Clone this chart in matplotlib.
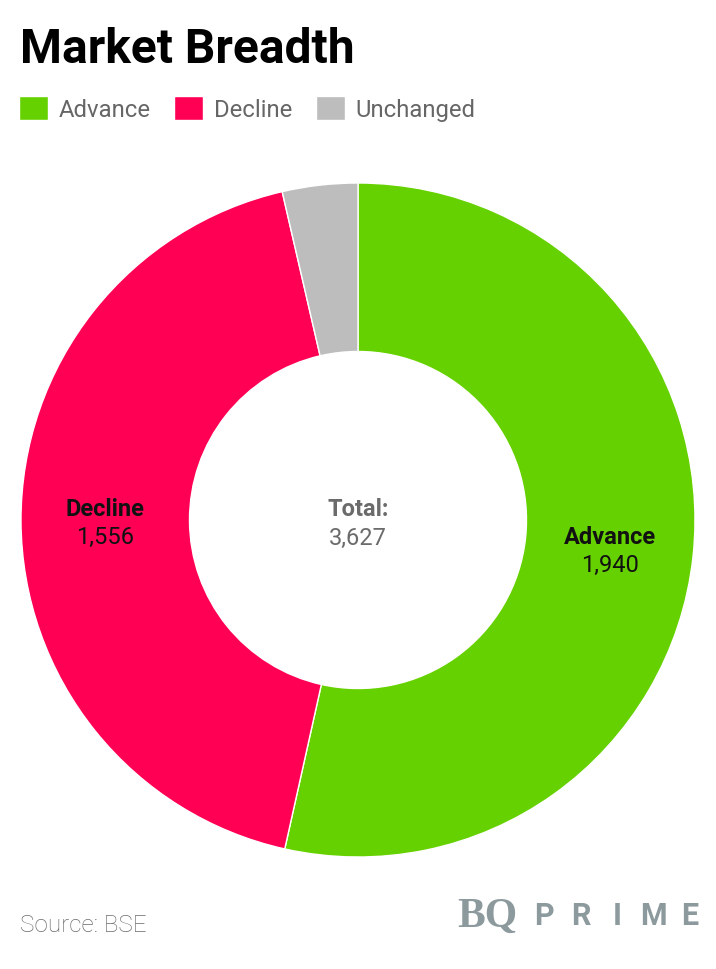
import matplotlib
matplotlib.use("Agg")
import matplotlib.pyplot as plt

categories = ["Advance", "Decline", "Unchanged"]
values = [1940, 1556, 131]
colors = ["#66D100", "#FF0055", "#BDBDBD"]
total = sum(values)

plt.rcParams['font.family'] = ['Roboto', 'DejaVu Sans']

W, H = 716, 970
fig = plt.figure(figsize=(W / 100, H / 100), dpi=100)
fig.patch.set_facecolor("white")

cx, cy, r = 358, 521, 337
ax = fig.add_axes([(cx - r) / W, (H - cy - r) / H, 2 * r / W, 2 * r / H])
wedges, _ = ax.pie(values, colors=colors, startangle=90, counterclock=False,
                   radius=1, wedgeprops=dict(width=0.5, edgecolor="white", linewidth=1))
ax.set_xlim(-1, 1)
ax.set_ylim(-1, 1)
ax.set_aspect("equal")
ax.axis("off")

def px(x, y):
    return ((x - (cx - r)) / r - 1, 1 - (y - (cy - r)) / r)

# slice labels
lab_pos = {"Advance": (610, 537), "Decline": (105, 509)}
for cat, val in zip(categories, values):
    if cat in lab_pos:
        x, y = lab_pos[cat]
        ax.text(*px(x, y), cat, ha="center", va="center", fontsize=17, fontweight="bold", color="#111111")
        ax.text(*px(x, y + 28), f"{val:,}", ha="center", va="center", fontsize=17, color="#111111")

ax.text(*px(358, 509), "Total:", ha="center", va="center", fontsize=17, fontweight="bold", color="#6b6b6b")
ax.text(*px(358, 538), f"{total:,}", ha="center", va="center", fontsize=17, color="#6b6b6b")

# title
fig.text(20 / W, 1 - 50 / H, "Market Breadth", fontsize=34.5, fontweight="bold", color="#000000",
         ha="left", va="center")

# legend
leg = fig.legend(wedges, categories, loc="upper left", bbox_to_anchor=(19 / W, 1 - 97 / H),
                 ncol=3, frameon=False, fontsize=17.2, handlelength=1.2, handleheight=1.2,
                 handletextpad=0.45, columnspacing=1.0, borderpad=0, borderaxespad=0)
for t in leg.get_texts():
    t.set_color("#666666")

# footer
fig.text(20 / W, 1 - 926 / H, "Source: BSE", fontsize=17.5, color="#6b6b6b", ha="left", va="center",
         fontweight="light")
fig.text(457 / W, 1 - 917 / H, "BQ", fontsize=30, color="#8C9A9E", ha="left", va="center",
         family="Liberation Serif", fontweight="bold")
for i, ch in enumerate("PRIME"):
    fig.text((544 + i * 36.5) / W, 1 - 916 / H, ch, fontsize=22, color="#8C9A9E", ha="center", va="center",
             fontweight="bold")

fig.savefig("out.png", dpi=100, facecolor="white")
